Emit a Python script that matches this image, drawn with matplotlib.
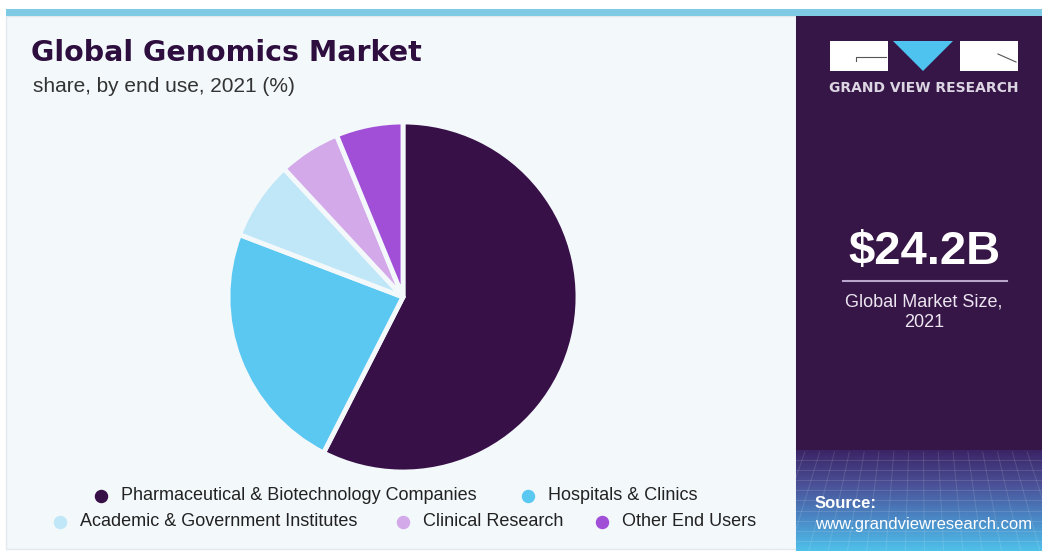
import numpy as np
import matplotlib.pyplot as plt
from matplotlib.patches import Rectangle, Polygon
from matplotlib.colors import LinearSegmentedColormap

### Data
segments = ['Pharmaceutical & Biotechnology Companies', 'Hospitals & Clinics',
            'Academic & Government Institutes', 'Clinical Research', 'Other End Users']
shares = [57.5, 23.3, 7.3, 5.7, 6.2]
colors = ['#381048', '#5bc8f2', '#bfe7f7', '#d3a9ea', '#a24fd8']
market_size = '$24.2B'
market_label = 'Global Market Size,\n2021'

W, H = 1042, 551
fig = plt.figure(figsize=(W / 100, H / 100), dpi=100)
fig.patch.set_facecolor('white')

# full-figure axes in pixel coords for backgrounds and text
bg = fig.add_axes([0, 0, 1, 1])
bg.set_xlim(0, W)
bg.set_ylim(H, 0)
bg.axis('off')

bg.add_patch(Rectangle((6, 16), 790, 533, facecolor='#f3f8fb', edgecolor='#e3e8ec', lw=1))
bg.add_patch(Rectangle((6, 9), W - 6, 7, facecolor='#7fcbe6', edgecolor='none'))
bg.add_patch(Rectangle((796, 16), W - 796, H - 16, facecolor='#361547', edgecolor='none'))

# gradient at the bottom of the right panel
cmap = LinearSegmentedColormap.from_list('src', ['#3b2566', '#4a4f96', '#4a86c4', '#4fc0ea'])
grad = np.linspace(0, 1, 100).reshape(-1, 1)
bg.imshow(grad, cmap=cmap, extent=(796, W, H, 450), aspect='auto', zorder=1)
for yy in np.linspace(460, 551, 10):
    bg.plot([796, W], [yy, yy], color='white', alpha=0.12, lw=0.7, zorder=2)
for xx in np.linspace(790, W, 18):
    bg.plot([xx, xx + (xx - 920) * 0.3], [452, H], color='white', alpha=0.12, lw=0.7, zorder=2)
bg.set_xlim(0, W)
bg.set_ylim(H, 0)

# logo
bg.add_patch(Rectangle((830, 41), 58, 30, facecolor='white', edgecolor='none', zorder=3))
bg.add_patch(Rectangle((960, 41), 58, 30, facecolor='white', edgecolor='none', zorder=3))
bg.add_patch(Polygon([(893, 41), (953, 41), (923, 71)], closed=True, facecolor='#4fc3ef', edgecolor='none', zorder=3))
bg.plot([856, 856, 886], [61, 57, 57], color='#555555', lw=0.8, zorder=4)
bg.plot([998, 1016], [54, 62], color='#555555', lw=0.8, zorder=4)
bg.text(924, 88, 'GRAND VIEW RESEARCH', ha='center', va='center', fontsize=10,
        fontweight='bold', color='#dcd6e2', family='DejaVu Sans', zorder=4)

# market size box
bg.text(924, 252, market_size, ha='center', va='center', fontsize=34, fontweight='bold',
        color='white', family='Liberation Sans', zorder=4)
bg.plot([843, 1007], [281, 281], color='#b9a5cc', lw=1.5, zorder=4)
bg.text(924, 312, market_label, ha='center', va='center', fontsize=13, color='#ece6f0',
        family='Liberation Sans', linespacing=1.25, zorder=4)

bg.text(815, 503, 'Source:', ha='left', va='center', fontsize=12, fontweight='bold',
        color='white', family='Liberation Sans', zorder=4)
bg.text(815, 524, 'www.grandviewresearch.com', ha='left', va='center', fontsize=12,
        color='white', family='Liberation Sans', zorder=4)

# titles
bg.text(31, 53, 'Global Genomics Market', ha='left', va='center', fontsize=20.5,
        fontweight='heavy', color='#2d0e3f', family='DejaVu Sans')
bg.text(33, 87, 'share, by end use, 2021 (%)', ha='left', va='center', fontsize=15,
        color='#333333', family='Liberation Sans')

# pie
cx, cy, r = 403, 297, 175
ax = fig.add_axes([(cx - r) / W, 1 - (cy + r) / H, 2 * r / W, 2 * r / H])
ax.pie(shares, colors=colors, startangle=90, counterclock=False,
       wedgeprops=dict(edgecolor='#f3f8fb', linewidth=3.5, joinstyle='round'))
ax.set_xlim(-1, 1)
ax.set_ylim(-1, 1)
ax.set_aspect('equal')

# legend
legend_pos = [(101, 496), (528, 496), (60, 522), (403, 522), (602, 522)]
for (lx, ly), lab, col in zip(legend_pos, segments, colors):
    bg.scatter([lx], [ly], s=75, color=col, zorder=4)
    bg.text(lx + 20, ly, lab, ha='left', va='center', fontsize=13, color='#222222',
            family='Liberation Sans', zorder=4)

fig.savefig('out.png', dpi=100)
